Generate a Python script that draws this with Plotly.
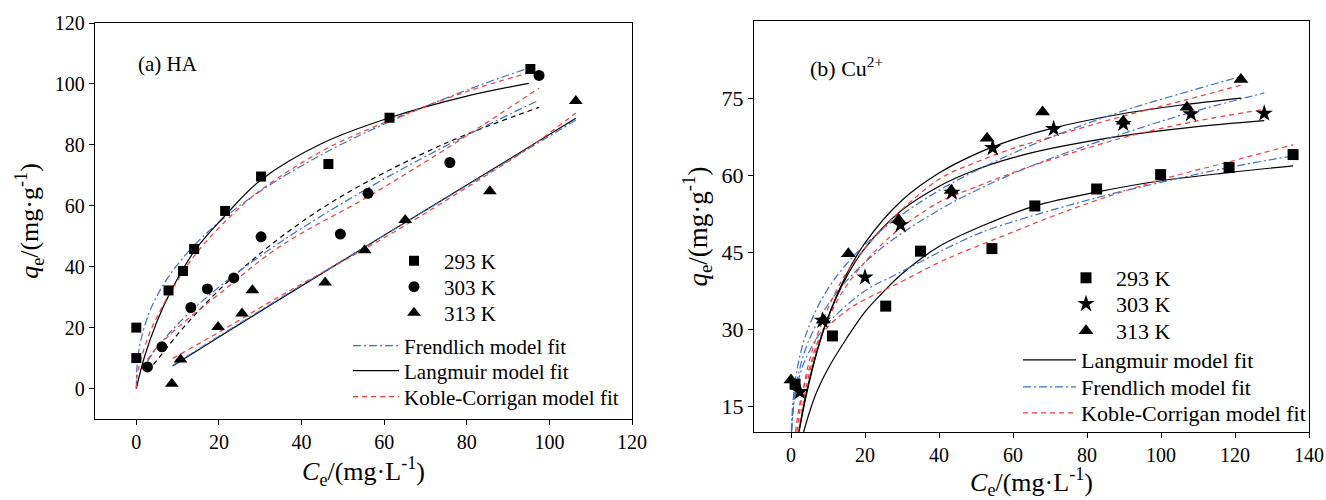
import plotly.graph_objects as go

# ---------------- Panel (a) HA : measured data ----------------
ha_293_x = [0, 0, 7.8, 11.3, 14.0, 21.5, 30.2, 46.5, 61.3, 95.4]
ha_293_y = [10, 20, 32.2, 38.6, 45.8, 58.3, 69.6, 73.7, 88.9, 104.9]
ha_303_x = [2.7, 6.2, 13.2, 17.2, 23.6, 30.2, 49.4, 56.1, 75.9, 97.5]
ha_303_y = [7.1, 13.7, 26.6, 32.7, 36.3, 49.8, 50.7, 64.1, 74.2, 102.8]
ha_313_x = [8.6, 10.7, 19.8, 25.6, 28.1, 45.7, 55.3, 65.1, 85.6, 106.4]
ha_313_y = [1.6, 9.5, 20.2, 24.6, 32.3, 34.8, 45.4, 55.3, 64.8, 94.4]

# Panel (a) fitted curves
ha_lang_293_x = [0, 2, 5, 8, 14, 22, 30, 45, 61.3, 80, 95]
ha_lang_293_y = [0, 10.5, 22.0, 31.0, 45.0, 57.5, 68.3, 80.5, 88.9, 96.0, 100.2]
ha_freu_293_x = [0, 0.1, 0.3, 1, 3, 5, 8, 14, 22, 30, 45, 61.3, 80, 95.4]
ha_freu_293_y = [0, 5.8, 9.0, 15.4, 24.5, 30.4, 37.1, 47.0, 56.8, 64.8, 76.9, 87.6, 98.0, 105.4]
ha_kc_293_x = [0, 0.3, 1, 3, 5, 8, 14, 22, 30, 45, 61.3, 80, 95.4]
ha_kc_293_y = [0, 5.0, 9.0, 17.5, 23.5, 31.0, 43.5, 55.5, 65.0, 78.0, 88.0, 97.5, 103.8]

ha_lang_303_x = [2.7, 5, 10, 15, 20, 23.6, 34.6, 50, 75, 97.5]
ha_lang_303_y = [5.7, 9.3, 17.8, 25.4, 32.3, 36.9, 49.3, 63.4, 80.6, 92.3]
ha_freu_303_x = [2.7, 5, 10, 20, 34.6, 56.1, 75, 97.5]
ha_freu_303_y = [8.9, 13.3, 21.1, 33.3, 47.8, 65.8, 79.7, 94.7]
ha_kc_303_x = [2.7, 5, 10, 20, 34.6, 56.1, 75.1, 97.5]
ha_kc_303_y = [9.5, 13.5, 20.0, 31.0, 46.5, 63.0, 78.8, 98.6]

ha_lang_313_x = [8.8, 20, 40, 60, 80, 106.4]
ha_lang_313_y = [7.4, 16.9, 33.7, 50.3, 66.8, 88.7]
ha_freu_313_x = [8.8, 20, 40, 60, 80, 106.4]
ha_freu_313_y = [7.6, 17.2, 33.9, 50.3, 66.6, 88.1]
ha_kc_313_x = [8.8, 20, 35, 50, 65, 80, 95, 106.4]
ha_kc_313_y = [9.9, 18.5, 30.5, 41.8, 53.5, 66.0, 79.0, 90.5]

# ---------------- Panel (b) Cu2+ : measured data ----------------
cu_293_x = [1.1, 11.2, 25.6, 35.0, 54.3, 65.9, 82.6, 99.9, 118.4, 135.7]
cu_293_y = [19.3, 28.7, 34.5, 45.2, 45.7, 54.0, 57.3, 60.1, 61.5, 64.0]
cu_303_x = [2.4, 8.5, 20.0, 29.6, 43.5, 54.5, 71.0, 89.8, 108.1, 127.9]
cu_303_y = [17.8, 31.7, 40.1, 50.3, 56.6, 65.3, 69.0, 70.0, 71.9, 72.0]
cu_313_x = [0.0, 8.8, 15.5, 29.1, 43.3, 53.0, 68.0, 89.8, 107.0, 121.6]
cu_313_y = [20.1, 31.8, 44.7, 51.3, 57.0, 67.2, 72.3, 70.5, 73.2, 78.6]

# Panel (b) fitted curves
cu_lang_293_x = [3.4, 6.5, 10, 15, 20, 25, 30, 40, 54.3, 66, 82.6, 100, 118.4, 135.7]
cu_lang_293_y = [10, 17.0, 22.3, 28.2, 33.4, 37.3, 40.8, 46.1, 50.9, 54.0, 56.7, 58.9, 60.5, 61.8]
cu_freu_293_x = [0.15, 0.5, 1, 2, 4, 9.2, 20, 28, 45.6, 54.3, 82.6, 100, 118.4, 135.7]
cu_freu_293_y = [10.3, 13.7, 16.6, 20.1, 24.3, 30.5, 37.5, 40.5, 47.0, 49.6, 55.6, 58.6, 61.5, 63.75]
cu_kc_293_x = [1.2, 2, 3, 5, 8.3, 15, 20, 28, 40, 45.6, 54.3, 70, 82.6, 100, 118.4, 135.7]
cu_kc_293_y = [10, 14.0, 17.5, 22.5, 29.0, 33.6, 35.8, 38.6, 43.0, 44.8, 47.3, 51.8, 55.1, 59.1, 62.6, 65.9]

cu_lang_303_x = [2.1, 4, 7, 10, 15, 20, 30, 40.2, 49.3, 60, 71, 90, 108, 127.9]
cu_lang_303_y = [10.0, 17.2, 25.8, 32.3, 40.2, 45.8, 53.2, 57.9, 60.85, 63.4, 65.3, 67.7, 69.3, 70.6]
cu_freu_303_x = [0.17, 0.4, 1, 2, 4, 8.5, 15, 25, 40.2, 55, 70, 89.8, 108, 127.9]
cu_freu_303_y = [10.0, 13.0, 17.2, 21.2, 26.3, 33.1, 39.4, 46.1, 53.3, 58.7, 63.2, 68.1, 72.2, 76.0]
cu_kc_303_x = [2.0, 3, 5, 8.5, 15, 26, 40.2, 49.3, 60, 71, 89.8, 108, 127.9]
cu_kc_303_y = [10, 14.5, 21.5, 29.5, 38.5, 47.5, 54.8, 57.5, 60.5, 63.2, 67.3, 70.3, 72.8]

cu_lang_313_x = [2.2, 4, 7, 10, 15, 20, 30, 40, 49.3, 60, 71, 90, 105, 121.6]
cu_lang_313_y = [10.1, 16.7, 25.5, 32.3, 40.7, 46.8, 55.1, 60.4, 63.9, 66.9, 69.2, 72.0, 73.6, 75.0]
cu_freu_313_x = [0.11, 0.3, 1, 2, 4, 8.5, 15, 25, 40.2, 55, 70, 89.8, 105, 121.6]
cu_freu_313_y = [10.0, 13.4, 19.2, 23.5, 28.9, 36.1, 42.7, 49.6, 57.1, 62.6, 67.3, 72.5, 75.8, 79.2]
cu_kc_313_x = [1.6, 3, 5, 8.5, 15, 26, 40.2, 49.3, 60, 71, 89.8, 107, 121.6]
cu_kc_313_y = [10, 17.0, 24.0, 31.5, 41.0, 50.5, 59.3, 62.3, 65.2, 67.6, 71.5, 74.7, 77.5]

# tick labels
ha_ticks = [0, 20, 40, 60, 80, 100, 120]
cu_xticks = [0, 20, 40, 60, 80, 100, 120, 140]
cu_yticks = [15, 30, 45, 60, 75]

# ---------------- styles ----------------
SERIF = "Liberation Serif, Times New Roman, serif"
BLUE = "#3E6FC8"
RED = "#F03C3C"
BLACK = "#000000"
DASHDOT = "8px,3px,2px,3px"
DASH = "5px,4px"
LW = 1.2
W, H = 1326, 500


def px(v):
    return v / W


def py(v):
    return 1 - v / H


fig = go.Figure()
legends = {}


def make_legend(key, x_left, y_mid, size, itemwidth):
    legends[key] = dict(x=px(x_left), y=py(y_mid), xanchor="left", yanchor="middle",
                        bgcolor="rgba(0,0,0,0)", borderwidth=0,
                        font=dict(family=SERIF, size=size, color=BLACK),
                        itemwidth=itemwidth, tracegroupgap=0)


def curve(x, y, color, dash, xa, ya, name=None, legend=None):
    fig.add_trace(go.Scatter(
        x=x, y=y, mode="lines", line=dict(color=color, width=LW, dash=dash, shape="spline"),
        xaxis=xa, yaxis=ya, name=name if name else "fit",
        showlegend=name is not None, legend=legend if legend else "legend", hoverinfo="skip"))


def points(x, y, symbol, size, xa, ya, name, legend):
    fig.add_trace(go.Scatter(
        x=x, y=y, mode="markers", marker=dict(symbol=symbol, size=size, color=BLACK, line=dict(width=0)),
        xaxis=xa, yaxis=ya, name=name, legend=legend, showlegend=True))


# ----- panel (a) -----
curve(ha_freu_293_x, ha_freu_293_y, BLUE, DASHDOT, "x", "y", "Frendlich model fit", "legend4")
curve(ha_lang_293_x, ha_lang_293_y, BLACK, "solid", "x", "y", "Langmuir model fit", "legend5")
curve(ha_kc_293_x, ha_kc_293_y, RED, DASH, "x", "y", "Koble-Corrigan model fit", "legend6")
curve(ha_lang_303_x, ha_lang_303_y, BLACK, DASH, "x", "y")
curve(ha_freu_303_x, ha_freu_303_y, BLUE, DASHDOT, "x", "y")
curve(ha_kc_303_x, ha_kc_303_y, RED, DASH, "x", "y")
curve(ha_lang_313_x, ha_lang_313_y, BLACK, "solid", "x", "y")
curve(ha_freu_313_x, ha_freu_313_y, BLUE, DASHDOT, "x", "y")
curve(ha_kc_313_x, ha_kc_313_y, RED, DASH, "x", "y")
points(ha_293_x, ha_293_y, "square", 10, "x", "y", "293 K", "legend")
points(ha_303_x, ha_303_y, "circle", 11, "x", "y", "303 K", "legend2")
points(ha_313_x, ha_313_y, "triangle-up", 12, "x", "y", "313 K", "legend3")

# ----- panel (b) -----
curve(cu_lang_293_x, cu_lang_293_y, BLACK, "solid", "x2", "y2", "Langmuir model fit", "legend10")
curve(cu_freu_293_x, cu_freu_293_y, BLUE, DASHDOT, "x2", "y2", "Frendlich model fit", "legend11")
curve(cu_kc_293_x, cu_kc_293_y, RED, DASH, "x2", "y2", "Koble-Corrigan model fit", "legend12")
curve(cu_lang_303_x, cu_lang_303_y, BLACK, "solid", "x2", "y2")
curve(cu_freu_303_x, cu_freu_303_y, BLUE, DASHDOT, "x2", "y2")
curve(cu_kc_303_x, cu_kc_303_y, RED, DASH, "x2", "y2")
curve(cu_lang_313_x, cu_lang_313_y, BLACK, "solid", "x2", "y2")
curve(cu_freu_313_x, cu_freu_313_y, BLUE, DASHDOT, "x2", "y2")
curve(cu_kc_313_x, cu_kc_313_y, RED, DASH, "x2", "y2")
points(cu_293_x, cu_293_y, "square", 11, "x2", "y2", "293 K", "legend7")
points(cu_303_x, cu_303_y, "star", 13, "x2", "y2", "303 K", "legend8")
points(cu_313_x, cu_313_y, "triangle-up", 13, "x2", "y2", "313 K", "legend9")

# legend boxes (one item each, so rows can sit at the reference spacing)
for i, yv in enumerate([261, 287, 313]):
    make_legend("legend" if i == 0 else "legend%d" % (i + 1), 384, yv, 21, 50)
for i, yv in enumerate([346, 371, 397]):
    make_legend("legend%d" % (i + 4), 348, yv, 21, 46)
for i, yv in enumerate([278, 304, 331]):
    make_legend("legend%d" % (i + 7), 1056, yv, 22, 50)
for i, yv in enumerate([360, 387, 413]):
    make_legend("legend%d" % (i + 10), 1018, yv, 22, 53)

axis_common = dict(showline=True, linecolor=BLACK, linewidth=1.3, mirror=True,
                   ticks="outside", ticklen=5, tickwidth=1.2, tickcolor=BLACK,
                   showgrid=False, zeroline=False, automargin=False)

fig.update_layout(
    template="none",
    width=W, height=H, margin=dict(l=0, r=0, t=0, b=0, pad=0), autosize=False,
    paper_bgcolor="white", plot_bgcolor="white",
    font=dict(family=SERIF, color=BLACK),
    xaxis=dict(domain=[px(95), px(632)], range=[-10, 120], tickvals=ha_ticks,
               tickfont=dict(family=SERIF, size=20), anchor="y",
               title=dict(text="<i>C</i><sub>e</sub>/(mg·L<sup>-1</sup>)",
                          font=dict(family=SERIF, size=26), standoff=6),
               **axis_common),
    yaxis=dict(domain=[py(419), py(23)], range=[-10, 120], tickvals=ha_ticks,
               tickfont=dict(family=SERIF, size=20), anchor="x",
               title=dict(text="<i>q</i><sub>e</sub>/(mg·g<sup>-1</sup>)",
                          font=dict(family=SERIF, size=26), standoff=8),
               **axis_common),
    xaxis2=dict(domain=[px(754), px(1309)], range=[-10, 140], tickvals=cu_xticks,
                tickfont=dict(family=SERIF, size=20), anchor="y2",
                title=dict(text="<i>C</i><sub>e</sub>/(mg·L<sup>-1</sup>)",
                           font=dict(family=SERIF, size=26), standoff=14),
                **axis_common),
    yaxis2=dict(domain=[py(432), py(21)], range=[10, 90], tickvals=cu_yticks,
                tickfont=dict(family=SERIF, size=22), anchor="x2",
                title=dict(text="<i>q</i><sub>e</sub>/(mg·g<sup>-1</sup>)",
                           font=dict(family=SERIF, size=27), standoff=6),
                **axis_common),
    annotations=[
        dict(text="(a) HA", x=px(136), y=py(64), xref="paper", yref="paper",
             xanchor="left", yanchor="middle", showarrow=False,
             font=dict(family=SERIF, size=21)),
        dict(text="(b) Cu<sup>2+</sup>", x=px(808), y=py(67), xref="paper", yref="paper",
             xanchor="left", yanchor="middle", showarrow=False,
             font=dict(family=SERIF, size=22)),
    ],
    **legends,
)

fig.write_html("out.html")
